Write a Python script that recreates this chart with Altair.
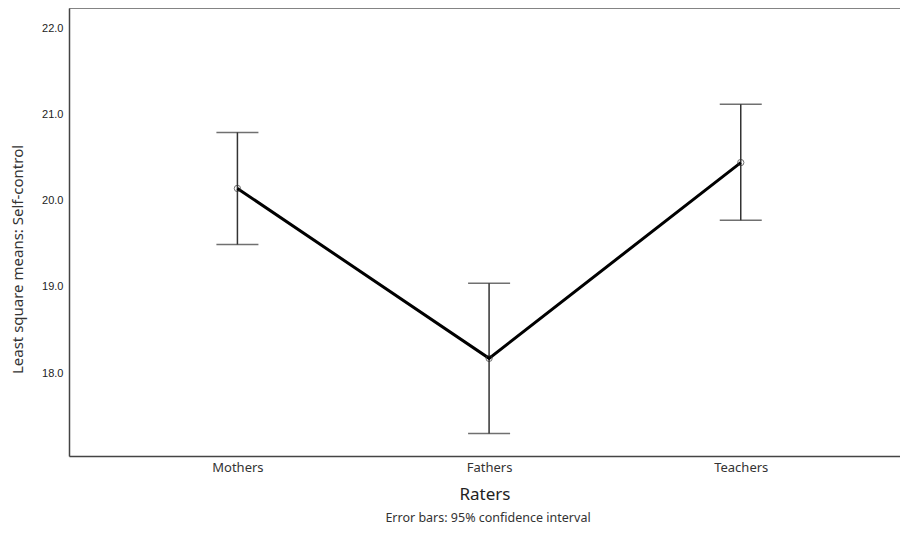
import altair as alt
import pandas as pd

raters = ["Mothers", "Fathers", "Teachers"]
means = [20.14, 18.17, 20.44]
lower = [19.49, 17.30, 19.77]
upper = [20.79, 19.04, 21.115]
y_ticks = [18.0, 19.0, 20.0, 21.0, 22.0]
note = "Error bars: 95% confidence interval"

df = pd.DataFrame({"Raters": raters, "mean": means, "lo": lower, "hi": upper})

W, H = 831, 448
sans = "Noto Sans"

xenc = alt.X(
    "Raters:N", sort=raters,
    scale=alt.Scale(type="point", padding=0.651, align=0.514),
    axis=alt.Axis(title="Raters", labelAngle=0, ticks=False, grid=False,
                  domainColor="#444", domainWidth=1.5,
                  labelFont=sans, labelFontSize=13, labelColor="#333", labelPadding=5,
                  titleFont=sans, titleFontSize=17, titleFontWeight="normal", titleColor="#222",
                  titleY=38, titleBaseline="middle"),
)
yscale = alt.Scale(domain=[17.038, 22.232], nice=False, zero=False)
yaxis = alt.Axis(title="Least square means: Self-control", values=y_ticks, format=".1f",
                 ticks=False, grid=False, domainColor="#444", domainWidth=1.5,
                 labelFont="Liberation Sans", labelFontSize=11, labelColor="#222", labelPadding=6,
                 titleFont=sans, titleFontSize=15, titleFontWeight="normal", titleColor="#333",
                 titleX=-44, titleY=251)

base = alt.Chart(df)

whisk = base.mark_rule(color="#333", strokeWidth=1.5).encode(
    x=xenc, y=alt.Y("lo:Q", scale=yscale, axis=yaxis), y2="hi:Q")
caps_lo = base.mark_tick(color="#333", size=42, thickness=1.5).encode(
    x=xenc, y=alt.Y("lo:Q", scale=yscale))
caps_hi = base.mark_tick(color="#333", size=42, thickness=1.5).encode(
    x=xenc, y=alt.Y("hi:Q", scale=yscale))
line = base.mark_line(color="black", strokeWidth=3).encode(
    x=xenc, y=alt.Y("mean:Q", scale=yscale))
pts = base.mark_point(shape="circle", filled=False, color="#333", size=40, strokeWidth=1).encode(
    x=xenc, y=alt.Y("mean:Q", scale=yscale))

one = pd.DataFrame({"note": [note]})
top_border = alt.Chart(one).mark_rule(color="#666", strokeWidth=1.5).encode(
    x=alt.value(0), x2=alt.value(W), y=alt.value(0))
note_text = alt.Chart(one).mark_text(font=sans, fontSize=12.5, color="#333",
                                     align="center", baseline="middle").encode(
    x=alt.value(419), y=alt.value(510), text="note:N")

chart = alt.layer(whisk, caps_lo, caps_hi, line, pts, top_border, note_text).properties(
    width=W, height=H,
    autosize=alt.AutoSizeParams(type="none"),
    padding={"left": 61, "top": 0, "right": 0, "bottom": 69},
).configure_view(stroke=None).configure(background="white")

chart.save("out.html", embed_options={"renderer": "svg", "actions": False})
